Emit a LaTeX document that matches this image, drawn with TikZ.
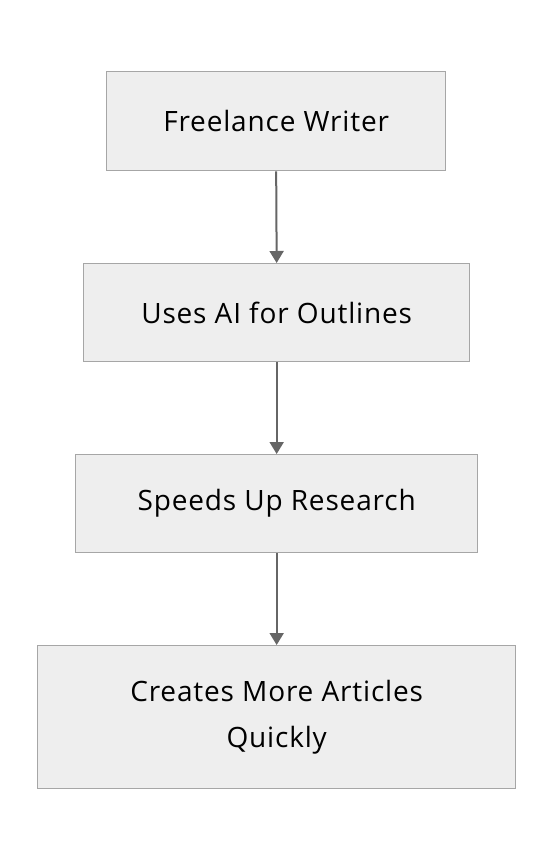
\documentclass[tikz,border=0pt]{standalone}
\usepackage{fontspec}
\setmainfont[LetterSpace=3]{Open Sans}
\usetikzlibrary{arrows.meta}
\begin{document}
\begin{tikzpicture}[x=0.75pt,y=-0.75pt,
  box/.style={draw=black!35,fill=black!6.5,line width=1pt,inner sep=0pt,anchor=north west,font=\fontsize{21pt}{34pt}\selectfont,align=center},
  conn/.style={draw=black!60,line width=1.5pt,-{Triangle[length=9pt,width=10.5pt]}}]
\useasboundingbox (0,0) rectangle (552,860);
\node[box,minimum width=339*0.75pt,minimum height=99*0.75pt] (a) at (106,71) {Freelance Writer};
\node[box,minimum width=386*0.75pt,minimum height=98*0.75pt] (b) at (83,263) {Uses AI for Outlines};
\node[box,minimum width=402*0.75pt,minimum height=98*0.75pt] (c) at (75,454) {Speeds Up Research};
\node[box,minimum width=478*0.75pt,minimum height=143*0.75pt] (d) at (37,645) {Creates More Articles\\Quickly};
\draw[conn] (a.south) -- (b.north);
\draw[conn] (b.south) -- (c.north);
\draw[conn] (c.south) -- (d.north);
\end{tikzpicture}
\end{document}
